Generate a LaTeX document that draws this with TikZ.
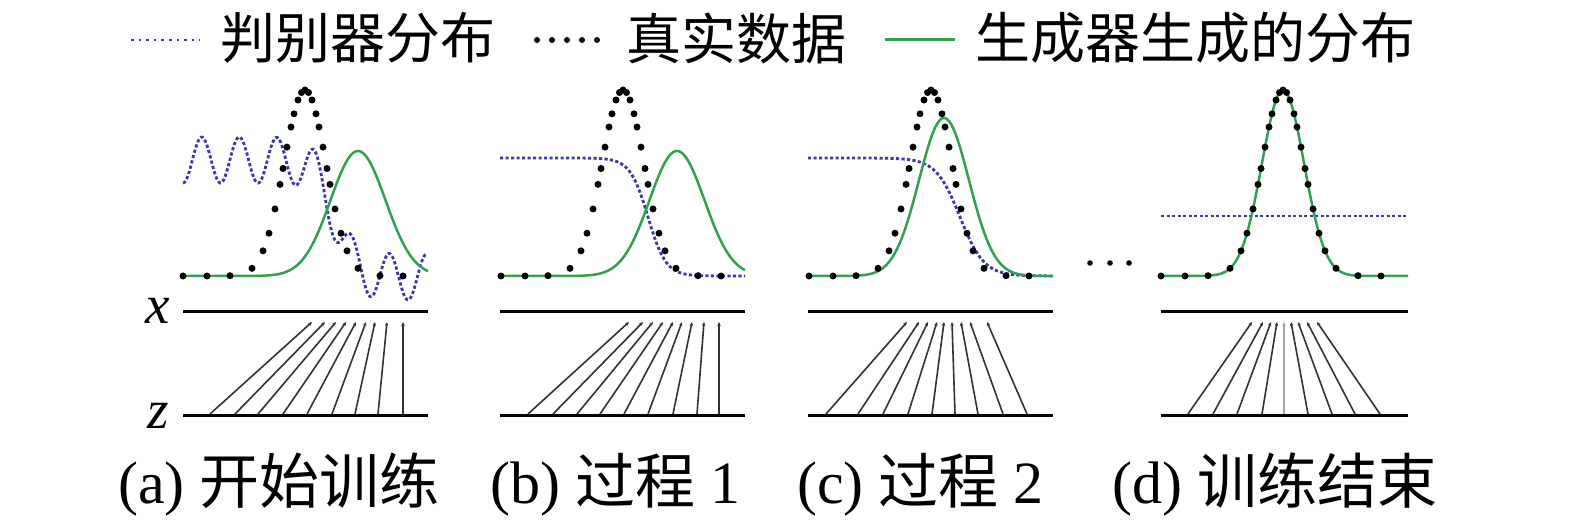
\documentclass[tikz,border=0pt]{standalone}
\usepackage{fontspec}
\setmainfont{Liberation Serif}
\newfontfamily\cjk{Noto Sans CJK SC}
\usetikzlibrary{arrows.meta}
\definecolor{dblue}{RGB}{55,55,175}
\definecolor{ggreen}{RGB}{50,160,80}
\definecolor{mapgray}{RGB}{50,50,50}
\tikzset{
  declare function={sig(\u)=1/(1+exp(-max(-8,min(8,\u)))); gau(\u)=exp(-0.5*\u*\u);},
  discr/.style={dblue, line width=2.8pt, dash pattern=on 3.2pt off 2.3pt},
  gen/.style={ggreen, line width=2.5pt},
  datadot/.style={black},
  axisline/.style={black, line width=3pt},
  mapline/.style={mapgray, line width=1.6pt, -{Stealth[length=4pt,width=3.5pt]}},
  lab/.style={inner sep=0pt, font=\fontsize{55}{60}\selectfont},
  captext/.style={inner sep=0pt, anchor=west, font=\fontsize{60}{66}\selectfont},
}
\newcommand{\dotoffsets}{-122,-98,-75,-53,-42,-36,-30,-25,-22,-18,-14,-11,-7,-3.5,0,3.5,7,11,14,18,22,25,30,36,42,53,75,98}
\begin{document}
\begin{tikzpicture}[x=1pt,y=-1pt]
\useasboundingbox (0,0) rectangle (1575,532);
% legend
\coordinate (l1a) at (131,40); \coordinate (l1b) at (200,40);
\draw[dblue, line width=2.6pt, dash pattern=on 2.6pt off 5pt] (l1a) -- (l1b);
\node[lab, anchor=west] (t1) at (220,38) {\cjk 判别器分布};
\foreach \i in {0,...,4} \fill[datadot] (537+15*\i,40) circle (3);
\node[lab, anchor=west] (t2) at (626,38) {\cjk 真实数据};
\coordinate (l3a) at (885,40); \coordinate (l3b) at (955,40);
\draw[gen, line width=3pt] (l3a) -- (l3b);
\node[lab, anchor=west] (t3) at (975,38) {\cjk 生成器生成的分布};

% ---------- panel a
\begin{scope}[shift={(183,0)}]
  \draw[discr] plot[domain=0:243, samples=260, smooth] (\x, {160+117*sig((\x-152)/10)+23*cos(9.6*\x)});
  \draw[gen] plot[domain=0:245, samples=150] (\x, {276-125*gau((\x-175)/27.5)});
  \foreach \d in \dotoffsets \fill[datadot] (122+\d, {276-186*gau(\d/21)}) circle (3.5);
  \coordinate (xa0) at (0,311); \coordinate (xa1) at (245,311);
  \coordinate (za0) at (0,415); \coordinate (za1) at (245,415);
  \draw[axisline] (xa0) -- (xa1);
  \draw[axisline] (za0) -- (za1);
  \foreach \b/\t [count=\i] in {27/129,52/142,75/153,100/163,124/173,149/183,172/192,195/204,220/220}{
    \coordinate (ab\i) at (\b,414); \coordinate (at\i) at (\t,322);
    \draw[mapline] (ab\i) -- (at\i);}
\end{scope}
\node[lab, anchor=base, font=\fontsize{55}{60}\selectfont\itshape] (xl) at (158,323) {x};
\node[lab, anchor=base, font=\fontsize{55}{60}\selectfont\itshape] (zl) at (158,428) {z};

% ---------- panel b
\begin{scope}[shift={(500,0)}]
  \draw[discr] plot[domain=0:245, samples=150] (\x, {158+118*sig((\x-148)/9)});
  \draw[gen] plot[domain=0:245, samples=150] (\x, {276-125*gau((\x-177)/27.5)});
  \foreach \d in \dotoffsets \fill[datadot] (123+\d, {276-186*gau(\d/21)}) circle (3.5);
  \coordinate (xb0) at (0,311); \coordinate (xb1) at (245,311);
  \coordinate (zb0) at (0,415); \coordinate (zb1) at (245,415);
  \draw[axisline] (xb0) -- (xb1);
  \draw[axisline] (zb0) -- (zb1);
  \foreach \b/\t [count=\i] in {28/129,53/143,77/153,100/163,124/173,148/182,173/192,197/204,219/219}{
    \coordinate (bb\i) at (\b,414); \coordinate (bt\i) at (\t,322);
    \draw[mapline] (bb\i) -- (bt\i);}
\end{scope}

% ---------- panel c
\begin{scope}[shift={(808,0)}]
  \draw[discr] plot[domain=0:245, samples=150] (\x, {158+118*sig((\x-152)/12)});
  \draw[gen] plot[domain=0:245, samples=150] (\x, {276-158*gau((\x-136)/25)});
  \foreach \d in \dotoffsets \fill[datadot] (123+\d, {276-186*gau(\d/21)}) circle (3.5);
  \coordinate (xc0) at (0,311); \coordinate (xc1) at (245,311);
  \coordinate (zc0) at (0,415); \coordinate (zc1) at (245,415);
  \draw[axisline] (xc0) -- (xc1);
  \draw[axisline] (zc0) -- (zc1);
  \foreach \b/\t [count=\i] in {18/99,50/111,75/120,100/129,124/136,147/144,170/153,195/162,219/179}{
    \coordinate (cb\i) at (\b,414); \coordinate (ct\i) at (\t,322);
    \draw[mapline] (cb\i) -- (ct\i);}
\end{scope}

% dots between
\foreach \p in {1090,1110,1129} \fill (\p,263) circle (2.8);

% ---------- panel d
\begin{scope}[shift={(1161,0)}]
  \coordinate (dd0) at (0,216); \coordinate (dd1) at (247,216);
  \draw[discr] (dd0) -- (dd1);
  \draw[gen] plot[domain=0:247, samples=150] (\x, {276-186*gau((\x-122)/21)});
  \foreach \d in \dotoffsets \fill[datadot] (122+\d, {276-186*gau(\d/21)}) circle (3.5);
  \coordinate (xd0) at (0,311); \coordinate (xd1) at (247,311);
  \coordinate (zd0) at (0,415); \coordinate (zd1) at (247,415);
  \draw[axisline] (xd0) -- (xd1);
  \draw[axisline] (zd0) -- (zd1);
  \foreach \b/\t/\c [count=\i] in {27/91/mapgray,52/102/mapgray,76/110/mapgray,101/116/mapgray,123/123/gray!70,147/130/mapgray,171/137/mapgray,194/146/mapgray,219/156/mapgray}{
    \coordinate (db\i) at (\b,414); \coordinate (dt\i) at (\t,322);
    \draw[mapline, draw=\c] (db\i) -- (dt\i);}
\end{scope}

% captions
\node[captext] (ca) at (118,485) {(a) {\cjk 开始训练}};
\node[captext] (cb) at (490,485) {(b) {\cjk 过程} 1};
\node[captext] (cc) at (797,485) {(c) {\cjk 过程} 2};
\node[captext] (cd) at (1112,485) {(d) {\cjk 训练结束}};
\end{tikzpicture}
\end{document}
